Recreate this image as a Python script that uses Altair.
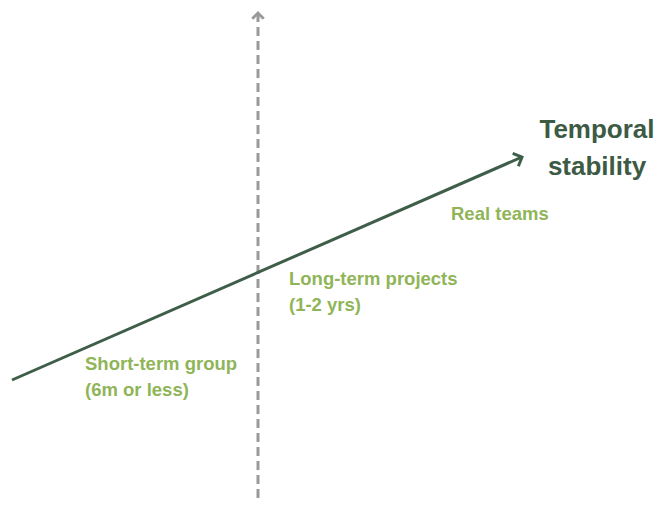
import altair as alt
import pandas as pd

# Diagonal axis (temporal stability) endpoints, in page pixel coordinates
diag_x = [12, 522]
diag_y = [380, 157]
# Vertical dashed axis
vert_x = [258, 258]
vert_y = [498, 13]

label_text = ["Temporal", "stability", "Real teams", "Long-term projects", "(1-2 yrs)",
              "Short-term group", "(6m or less)"]
label_x = [597, 597, 451, 289, 289, 85, 85]
label_y = [138, 175, 220, 285, 311, 370, 396]
label_kind = ["title", "title", "cat", "cat", "cat", "cat", "cat"]

xs = alt.Scale(domain=[8, 655], nice=False, zero=False)
ys = alt.Scale(domain=[498, 8], nice=False, zero=False)

diag = pd.DataFrame({"x": diag_x, "y": diag_y})
vert = pd.DataFrame({"x": vert_x, "y": vert_y})
labels = pd.DataFrame({"t": label_text, "x": label_x, "y": label_y, "k": label_kind})


def X():
    return alt.X("x:Q", scale=xs, axis=None)


def Y():
    return alt.Y("y:Q", scale=ys, axis=None)


vline = alt.Chart(vert).mark_line(
    color="#9a9a9a", strokeWidth=3, strokeDash=[9, 5], clip=False
).encode(x=X(), y=Y())
vhead = alt.Chart(vert.iloc[[1]]).mark_point(
    shape="M-1,1L0,0L1,1", filled=False, color="#9a9a9a", strokeWidth=3,
    size=130, clip=False, opacity=1
).encode(x=X(), y=Y())

dline = alt.Chart(diag).mark_line(color="#3f5e4a", strokeWidth=3, clip=False).encode(x=X(), y=Y())
dhead = alt.Chart(diag.iloc[[1]]).mark_point(
    shape="M-1,1L0,0L1,1", filled=False, color="#3f5e4a", strokeWidth=3,
    size=200, angle=66.3, clip=False, opacity=1
).encode(x=X(), y=Y())

title_txt = alt.Chart(labels[labels.k == "title"]).mark_text(
    font="Liberation Sans", fontWeight="bold", fontSize=26, color="#3d5a45",
    align="center", baseline="alphabetic", clip=False
).encode(x=X(), y=Y(), text="t:N")
cat_txt = alt.Chart(labels[labels.k == "cat"]).mark_text(
    font="Liberation Sans", fontWeight="bold", fontSize=18.5, color="#8fb558",
    align="left", baseline="alphabetic", clip=False
).encode(x=X(), y=Y(), text="t:N")

chart = alt.layer(vline, vhead, dline, dhead, title_txt, cat_txt).properties(
    width=647, height=490, padding=0, autosize=alt.AutoSizeParams(type="none")
).configure_view(stroke=None)

chart.save("out.html", embed_options={"renderer": "svg", "actions": False})
